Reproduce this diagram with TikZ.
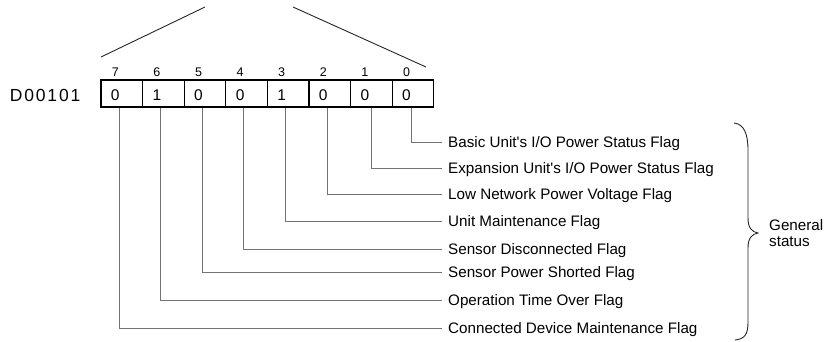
\documentclass[tikz,border=0pt]{standalone}
\usepackage{fontspec}
\setmainfont{Liberation Sans}
\newcommand{\sq}{\textquotesingle}
\begin{document}
\begin{tikzpicture}[x=1pt,y=-1pt,
  cell/.style={draw=black, line width=1.3pt, minimum width=41.6pt, minimum height=27pt, inner sep=0pt},
  digit/.style={inner sep=0pt, font=\fontsize{15.5}{18}\selectfont},
  bitno/.style={inner sep=0pt, font=\fontsize{12.5}{15}\selectfont},
  flag/.style={anchor=west, inner sep=0pt, text height=10.9pt, text depth=0pt, font=\fontsize{15.2}{18}\selectfont},
  conn/.style={draw=black!55, line width=0.9pt},
  thin/.style={draw=black!85, line width=0.9pt}]
\useasboundingbox (0,0) rectangle (834,341);
% cells
\foreach \i/\v [evaluate=\i as \xx using {101+(7-\i)*41.6+20.8}] in {7/0,6/1,5/0,4/0,3/1,2/0,1/0,0/0}{
  \node[cell] (c\i) at (\xx,93.5) {};
  \node[digit] (d\i) at ([xshift=-6.5pt,yshift=-2pt]c\i.center) {\v};
  \node[bitno] (b\i) at ([xshift=-6.5pt]\xx,72) {\i};
}
\node[anchor=east, inner sep=0pt, font=\fontsize{17.5}{20}\selectfont] (reg) at (80.5,95.5) {D\kern1.8pt0\kern1.8pt0\kern1.8pt1\kern1.8pt0\kern1.8pt1};
% top lines
\coordinate (tl1) at (101,57);
\coordinate (tl2) at (205,7);
\coordinate (tr1) at (293,7);
\coordinate (tr2) at (426,67);
\draw[thin] (tl1) -- (tl2);
\draw[thin] (tr1) -- (tr2);
% labels
\node[flag] (l0) at (448,142) {Basic Unit\sq s I/O Power Status Flag};
\node[flag] (l1) at (448,168) {Expansion Unit\sq s I/O Power Status Flag};
\node[flag] (l2) at (448,194.5) {Low Network Power Voltage Flag};
\node[flag] (l3) at (448,221) {Unit Maintenance Flag};
\node[flag] (l4) at (448,249) {Sensor Disconnected Flag};
\node[flag] (l5) at (448,272) {Sensor Power Shorted Flag};
\node[flag] (l6) at (448,300) {Operation Time Over Flag};
\node[flag] (l7) at (448,328) {Connected Device Maintenance Flag};
% connectors
\draw[conn] ([xshift=-1.8pt]c0.south) |- ([xshift=-6pt]l0.west);
\draw[conn] ([xshift=0pt]c1.south) |- ([xshift=-6pt]l1.west);
\draw[conn] ([xshift=-2.5pt]c2.south) |- ([xshift=-6pt]l2.west);
\draw[conn] ([xshift=-3pt]c3.south) |- ([xshift=-6pt]l3.west);
\draw[conn] ([xshift=-3pt]c4.south) |- ([xshift=-6pt]l4.west);
\draw[conn] ([xshift=-2.5pt]c5.south) |- ([xshift=-6pt]l5.west);
\draw[conn] ([xshift=-2.5pt]c6.south) |- ([xshift=-6pt]l6.west);
\draw[conn] ([xshift=-2.5pt]c7.south) |- ([xshift=-6pt]l7.west);
% brace
\draw[thin] (734,123) .. controls (744,124) and (748,134) .. (748,150)
  -- (748,218) .. controls (748,228) and (752,232) .. (758,233)
  .. controls (752,234) and (748,238) .. (748,248)
  -- (748,322) .. controls (748,334) and (745,339) .. (735,340);
\node[anchor=west, inner sep=0pt, align=left, font=\fontsize{15.2}{16}\selectfont] (gs) at (769,233) {General\\status};
\end{tikzpicture}
\end{document}
